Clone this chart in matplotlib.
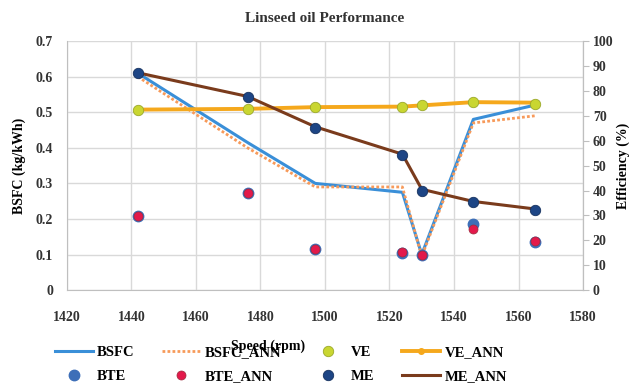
import matplotlib
matplotlib.use('Agg')
import matplotlib.pyplot as plt

# Data
speed = [1442, 1476, 1497, 1524, 1530, 1546, 1565]
bsfc = [0.61, 0.415, 0.30, 0.275, 0.10, 0.48, 0.52]
bsfc_ann = [0.60, 0.40, 0.29, 0.29, 0.095, 0.47, 0.49]
ve = [72.3, 72.7, 73.5, 73.5, 74.3, 75.5, 74.8]
ve_ann = [72.5, 72.8, 73.5, 73.7, 74.2, 75.5, 75.3]
bte = [29.7, 39.0, 16.5, 15.0, 14.1, 26.4, 19.4]
bte_ann = [29.7, 39.0, 16.7, 15.2, 14.2, 24.6, 19.6]
me = [87.1, 77.5, 65.1, 54.2, 39.9, 35.3, 32.3]
me_ann = [87.3, 77.8, 65.6, 54.6, 40.5, 35.6, 32.6]

plt.rcParams['font.family'] = ['Liberation Serif', 'DejaVu Serif']
plt.rcParams['font.weight'] = 'bold'

fig, ax1 = plt.subplots(figsize=(6.31, 3.92), dpi=100)
fig.subplots_adjust(left=0.106, right=0.924, top=0.895, bottom=0.26)

# BSFC on left axis
l1, = ax1.plot(speed, bsfc, color='#3a8fd8', lw=2.2, label='BSFC', zorder=3)
l2, = ax1.plot(speed, bsfc_ann, color='#f79a5a', lw=2, ls=(0, (1, 0.8)), label='BSFC_ANN', zorder=3)
ax1.set_xlim(1420, 1580)
ax1.set_ylim(0, 0.7)
ax1.set_xticks(range(1420, 1581, 20))
ax1.set_yticks([0, 0.1, 0.2, 0.3, 0.4, 0.5, 0.6, 0.7])
ax1.set_yticklabels(['0', '0.1', '0.2', '0.3', '0.4', '0.5', '0.6', '0.7'])
ax1.grid(True, color='#d9d9d9', lw=1)
ax1.set_axisbelow(True)
ax1.tick_params(axis='both', length=0, labelsize=10, colors='#333333', pad=10)
ax1.tick_params(axis='x', pad=15)
ax1.set_ylabel('BSFC (kg/kWh)', fontsize=10, fontweight='bold', labelpad=7)
ax1.set_xlabel('Speed (rpm)', fontsize=10, fontweight='bold')
ax1.xaxis.set_label_coords(0.39, -0.2)
ax1.spines['top'].set_visible(False)
for s in ['left', 'bottom', 'right']:
    ax1.spines[s].set_color('#bfbfbf')

# Efficiencies on right axis
ax2 = ax1.twinx()
ax2.set_ylim(0, 100)
ax2.set_yticks(range(0, 101, 10))
ax2.tick_params(axis='y', length=4, color='#bfbfbf', labelsize=10, labelcolor='#333333', pad=3)
ax2.set_ylabel('Efficiency (%)', fontsize=10, fontweight='bold', labelpad=2)
for s in ['top', 'left', 'bottom']:
    ax2.spines[s].set_visible(False)
ax2.spines['right'].set_color('#bfbfbf')

l4, = ax2.plot(speed, ve_ann, color='#f5a81c', lw=2.8, marker='o', ms=4, label='VE_ANN', zorder=3)
l3, = ax2.plot(speed, ve, ls='none', marker='o', ms=7.5, color='#c9d631', mec='#9aa82a', mew=0.6, label='VE', zorder=4)
l8, = ax2.plot(speed, me_ann, color='#7a3b1c', lw=2.2, label='ME_ANN', zorder=3)
l7, = ax2.plot(speed, me, ls='none', marker='o', ms=7.5, color='#1d4585', mec='#16325f', mew=0.6, label='ME', zorder=4)
l5, = ax2.plot(speed, bte, ls='none', marker='o', ms=7.5, color='#3d6fb8', label='BTE', zorder=4)
l6, = ax2.plot(speed, bte_ann, ls='none', marker='o', ms=6.5, color='#e3194b', mec='#9b2c3d', mew=0.5, label='BTE_ANN', zorder=5)

ax1.set_title('Linseed oil Performance', fontsize=11, fontweight='bold', color='#333333', pad=14)

handles = [l1, l5, l2, l6, l3, l7, l4, l8]
fig.legend(handles, [h.get_label() for h in handles], ncol=4, loc='lower center',
           bbox_to_anchor=(0.445, -0.01), frameon=False, fontsize=10.5,
           columnspacing=1.9, handlelength=2.6, handletextpad=0.3, labelspacing=0.75)

fig.savefig('out.png', dpi=100)
